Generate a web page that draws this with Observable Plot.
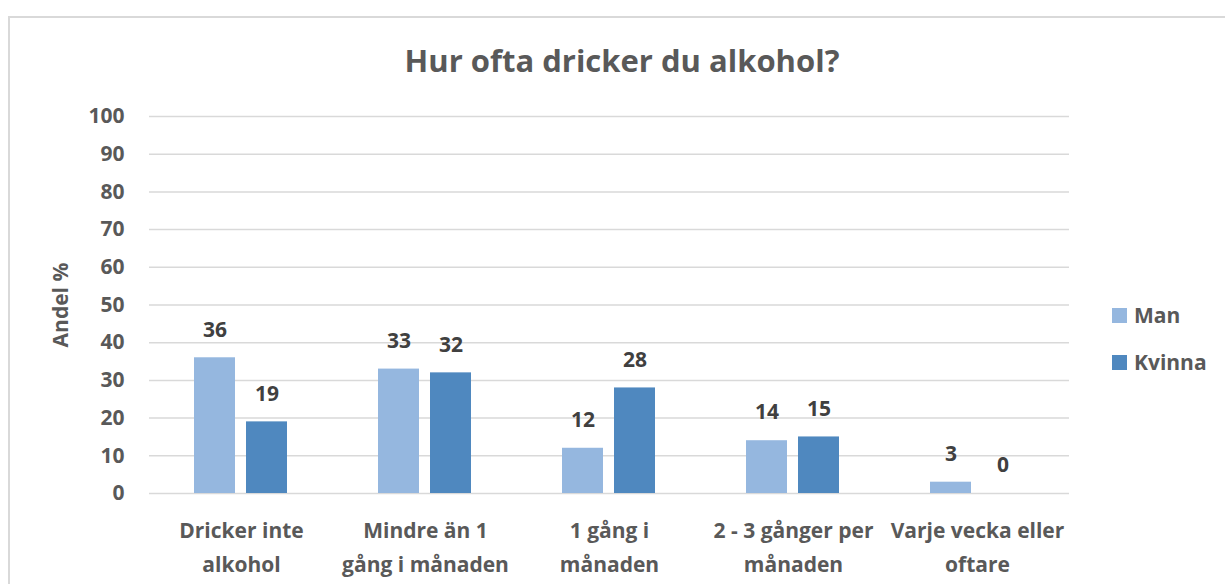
<!DOCTYPE html>
<html>
<head>
<meta charset="utf-8">
<script src="https://cdn.jsdelivr.net/npm/d3@7"></script>
<script src="https://cdn.jsdelivr.net/npm/@observablehq/plot@0.6"></script>
<style>
  html, body { margin: 0; padding: 0; background: #fff; }
  #wrap { position: relative; width: 1225px; height: 584px; overflow: hidden; font-family: "Open Sans", Lato, sans-serif; font-weight: bold; color: #595959; }
  #frame { position: absolute; left: 8px; top: 16px; width: 1260px; height: 620px; border: 2px solid #d9d9d9; box-sizing: border-box; }
  #title { position: absolute; left: 0; width: 1244px; top: 40px; text-align: center; font-size: 31px; line-height: 40px; }
  #ylabel { position: absolute; left: 60px; top: 305px; transform: translate(-50%, -50%) rotate(-90deg); font-size: 21px; white-space: nowrap; }
  #legend { position: absolute; left: 1112px; top: 0; }
  .li { position: absolute; left: 0; display: flex; align-items: center; white-space: nowrap; font-size: 21px; transform: translateY(-50%); }
  .sw { width: 15px; height: 15px; margin-right: 7px; }
  #chart { position: absolute; left: 0; top: 0; }
</style>
</head>
<body>
<div id="wrap">
  <div id="frame"></div>
  <div id="title"></div>
  <div id="ylabel"></div>
  <div id="legend"></div>
  <div id="chart"></div>
</div>
<script>
const titleText = "Hur ofta dricker du alkohol?";
const yLabel = "Andel %";
const categories = [
  "Dricker inte\nalkohol",
  "Mindre än 1\ngång i månaden",
  "1 gång i\nmånaden",
  "2 - 3 gånger per\nmånaden",
  "Varje vecka eller\noftare"
];
const series = ["Man", "Kvinna"];
const manValues = [36, 33, 12, 14, 3];
const kvinnaValues = [19, 32, 28, 15, 0];
const yTicks = [0, 10, 20, 30, 40, 50, 60, 70, 80, 90, 100];
const colors = ["#95b7df", "#4f88bf"];

const data = [];
categories.forEach((c, i) => {
  data.push({category: c, series: "Man", value: manValues[i]});
  data.push({category: c, series: "Kvinna", value: kvinnaValues[i]});
});

document.getElementById("title").textContent = titleText;
document.getElementById("ylabel").textContent = yLabel;

const legend = document.getElementById("legend");
const legendY = [315, 362];
series.forEach((s, i) => {
  const row = document.createElement("div");
  row.className = "li";
  row.style.top = legendY[i] + "px";
  const sw = document.createElement("div");
  sw.className = "sw";
  sw.style.background = colors[i];
  const t = document.createElement("span");
  t.textContent = s;
  row.appendChild(sw);
  row.appendChild(t);
  legend.appendChild(row);
});

const chart = Plot.plot({
  width: 1225,
  height: 584,
  marginLeft: 148,
  marginRight: 156,
  marginTop: 116,
  marginBottom: 91,
  style: {fontFamily: "'Open Sans', Lato, sans-serif", fontWeight: "bold", background: "transparent"},
  fx: {domain: categories, padding: 0, label: null},
  x: {domain: series, paddingInner: 0.21, paddingOuter: 0.86, axis: null},
  y: {domain: [0, 100], axis: null},
  color: {domain: series, range: colors},
  marks: [
    Plot.ruleY(yTicks, {stroke: "#d9d9d9", strokeWidth: 1.5}),
    Plot.barY(data, {fx: "category", x: "series", y: "value", fill: "series"}),
    Plot.text(data, {fx: "category", x: "series", y: "value", text: d => String(d.value), dy: -28, fontSize: 21, fontWeight: "bold", fill: "#404040"}),
    Plot.axisY(yTicks, {anchor: "left", tickSize: 0, tickPadding: 25, fontSize: 21, fontWeight: "bold", fill: "#595959", label: null}),
    Plot.axisFx({anchor: "bottom", tickSize: 0, tickPadding: 21, fontSize: 21, fontWeight: "bold", fill: "#595959", label: null, lineHeight: 1.6})
  ]
});
document.getElementById("chart").appendChild(chart);
</script>
</body>
</html>
